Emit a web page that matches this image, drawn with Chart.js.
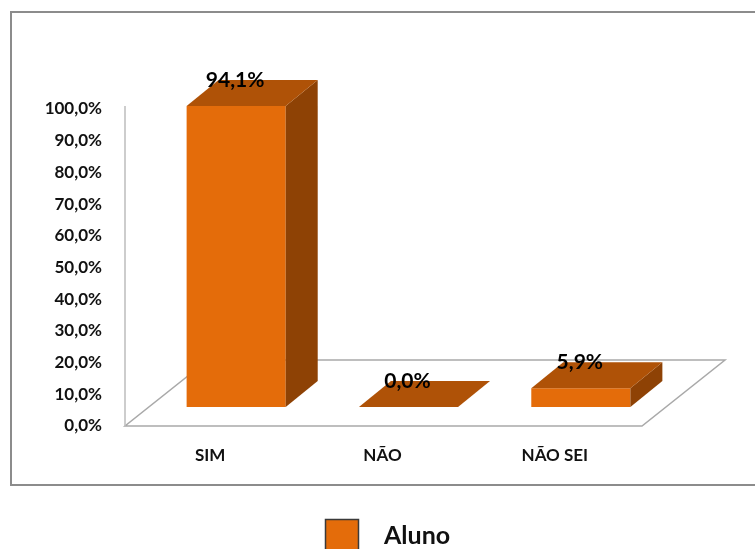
<!DOCTYPE html>
<html>
<head>
<meta charset="utf-8">
<script src="https://cdn.jsdelivr.net/npm/chart.js@4/dist/chart.umd.min.js"></script>
<style>
html,body{margin:0;padding:0;background:#ffffff;}
#wrap{width:755px;height:549px;position:relative;}
</style>
</head>
<body>
<div id="wrap"><canvas id="c" width="755" height="549"></canvas></div>
<script>
// ---- data ----
const categories = ['SIM', 'NÃO', 'NÃO SEI'];
const seriesName = 'Aluno';
const alunoValues = [94.1, 0.0, 5.9];
const yTickLabels = ['0,0%', '10,0%', '20,0%', '30,0%', '40,0%', '50,0%', '60,0%', '70,0%', '80,0%', '90,0%', '100,0%'];

// ---- style ----
const FRONT_COLOR = '#E46C0A';
const TOP_COLOR = '#AF5207';
const SIDE_COLOR = '#8E4205';
const TEXT_COLOR = '#111111';
const FONT = 'Lato, "Open Sans", sans-serif';

// 3D projection offsets (pixels)
const FRONT_SHIFT = {dx: 25, dy: -19};   // floor front edge -> bar front face
const BAR_DEPTH = {dx: 32, dy: -26};     // bar front face -> bar back face
const FLOOR_DEPTH = {dx: 83, dy: -66};   // floor front edge -> floor back edge

function fmtPct(v) { return v.toFixed(1).replace('.', ',') + '%'; }

const threeD = {
  id: 'threeD',
  beforeDraw(chart) {
    const {ctx} = chart;
    ctx.save();
    ctx.fillStyle = '#ffffff';
    ctx.fillRect(0, 0, chart.width, chart.height);
    ctx.restore();
  },
  beforeDatasetsDraw(chart) {
    const {ctx, chartArea: a, scales: {y}} = chart;
    const y0 = y.getPixelForValue(0);
    const fl = a.left - FRONT_SHIFT.dx;
    const fr = a.right - FRONT_SHIFT.dx;
    ctx.save();
    ctx.strokeStyle = '#A9A9A9';
    ctx.lineWidth = 1.5;
    ctx.beginPath();
    ctx.moveTo(fl, y0);
    ctx.lineTo(fr, y0);
    ctx.lineTo(fr + FLOOR_DEPTH.dx, y0 + FLOOR_DEPTH.dy);
    ctx.lineTo(fl + FLOOR_DEPTH.dx, y0 + FLOOR_DEPTH.dy);
    ctx.closePath();
    ctx.stroke();
    // vertical value axis line
    ctx.strokeStyle = '#BDBDBD';
    ctx.beginPath();
    ctx.moveTo(fl, y0);
    ctx.lineTo(fl, y.getPixelForValue(100) - 3);
    ctx.stroke();
    ctx.restore();
  },
  afterDatasetsDraw(chart) {
    const {ctx} = chart;
    const meta = chart.getDatasetMeta(0);
    const ds = chart.data.datasets[0];
    const dx = BAR_DEPTH.dx, dy = BAR_DEPTH.dy;
    ctx.save();
    meta.data.forEach((el) => {
      const p = el.getProps(['x', 'y', 'base', 'width'], true);
      const l = p.x - p.width / 2, r = p.x + p.width / 2;
      const top = Math.min(p.y, p.base), base = p.base;
      if (base - top > 0.5) {
        ctx.fillStyle = SIDE_COLOR;
        ctx.beginPath();
        ctx.moveTo(r, top);
        ctx.lineTo(r + dx, top + dy);
        ctx.lineTo(r + dx, base + dy);
        ctx.lineTo(r, base);
        ctx.closePath();
        ctx.fill();
      }
      ctx.fillStyle = TOP_COLOR;
      ctx.beginPath();
      ctx.moveTo(l, top);
      ctx.lineTo(r, top);
      ctx.lineTo(r + dx, top + dy);
      ctx.lineTo(l + dx, top + dy);
      ctx.closePath();
      ctx.fill();
    });
    // data labels
    ctx.font = 'bold 21px ' + FONT;
    ctx.fillStyle = '#000000';
    ctx.textAlign = 'center';
    ctx.textBaseline = 'middle';
    meta.data.forEach((el, i) => {
      const p = el.getProps(['x', 'y'], true);
      ctx.fillText(fmtPct(ds.data[i]), p.x - 1, p.y + dy + 0.5);
    });
    ctx.restore();
  },
  afterDraw(chart) {
    const {ctx} = chart;
    ctx.save();
    // outer chart border
    ctx.strokeStyle = '#8C8C8C';
    ctx.lineWidth = 2;
    ctx.strokeRect(11, 12, 770, 473);
    // legend
    ctx.fillStyle = FRONT_COLOR;
    ctx.fillRect(325.5, 519.5, 33, 34);
    ctx.strokeStyle = '#3A3A3A';
    ctx.lineWidth = 1.5;
    ctx.strokeRect(325.5, 519.5, 33, 34);
    ctx.font = 'bold 25px ' + FONT;
    ctx.fillStyle = TEXT_COLOR;
    ctx.textAlign = 'left';
    ctx.textBaseline = 'middle';
    ctx.fillText(seriesName, 384, 536);
    ctx.restore();
  }
};

new Chart(document.getElementById('c'), {
  type: 'bar',
  data: {
    labels: categories,
    datasets: [{
      label: seriesName,
      data: alunoValues,
      yAxisID: 'y2',
      backgroundColor: FRONT_COLOR,
      borderWidth: 0,
      barPercentage: 1,
      categoryPercentage: 0.575,
      clip: false
    }]
  },
  options: {
    responsive: false,
    animation: false,
    devicePixelRatio: 1,
    layout: {padding: {left: 0, top: 109, right: 88, bottom: 63}},
    plugins: {
      legend: {display: false},
      tooltip: {enabled: false},
      title: {display: false}
    },
    scales: {
      x: {
        type: 'category',
        offset: true,
        grid: {display: false},
        border: {display: false},
        ticks: {
          padding: 11,
          labelOffset: -26,
          color: TEXT_COLOR,
          font: {family: FONT, size: 17, weight: 'bold'},
          maxRotation: 0
        },
        afterFit(s) { s.height = 60; }
      },
      y: {
        position: 'left',
        min: 0,
        max: 100,
        grid: {display: false},
        border: {display: false},
        ticks: {
          stepSize: 10,
          padding: 40,
          color: TEXT_COLOR,
          font: {family: FONT, size: 17, weight: 'bold'},
          callback: (v, i) => yTickLabels[i]
        },
        afterFit(s) { s.width = 150; }
      },
      y2: {
        display: false,
        min: -5.94,
        max: 93.16
      }
    }
  },
  plugins: [threeD]
});
</script>
</body>
</html>
